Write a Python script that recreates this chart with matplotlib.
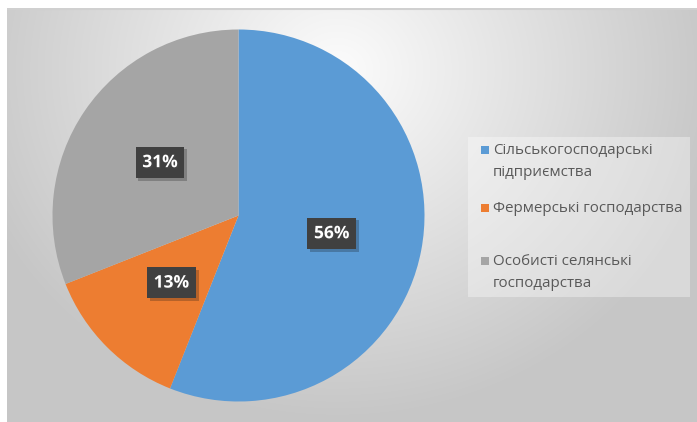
"""Pie chart of agricultural producer categories (share of output)."""

import matplotlib.pyplot as plt
import matplotlib.patheffects as pe
from matplotlib.patches import Rectangle
import numpy as np

categories = [
    "Сільськогосподарські\nпідприємства",
    "Фермерські господарства",
    "Особисті селянські\nгосподарства",
]
shares = [56, 13, 31]
colors = ["#5B9BD5", "#ED7D31", "#A5A5A5"]

W, H = 697, 422
fig = plt.figure(figsize=(W / 100, H / 100), dpi=100)
fig.patch.set_facecolor("white")


def px_box(x0, y0, w, h):
    # pixel box (top-left origin) -> figure fraction rect
    return [x0 / W, 1 - (y0 + h) / H, w / W, h / H]


# chart area with a soft radial gradient
bg = fig.add_axes(px_box(7, 8, 690, 414))
yy, xx = np.mgrid[0:414, 0:690]
dist = np.hypot(xx - 330, (yy + 8 - 70) * 1.1)
shade = np.clip(252 - dist * 0.14, 198, 252) / 255.0
bg.imshow(np.dstack([shade] * 3), aspect="auto", extent=(0, 690, 414, 0))
bg.axhline(0.5, color="#d0d0d0", lw=1.5)
bg.set_axis_off()

# pie
cx, cy, r = 238.5, 215.5, 186
ax = fig.add_axes(px_box(cx - r, cy - r, 2 * r, 2 * r))
wedges, _, autotexts = ax.pie(
    shares,
    colors=colors,
    startangle=90,
    counterclock=False,
    autopct="%d%%",
    pctdistance=0.51,
    wedgeprops=dict(linewidth=0),
    radius=1,
)
ax.set_xlim(-1, 1)
ax.set_ylim(-1, 1)
ax.set_aspect("equal")
ax.set_axis_off()

for t in autotexts:
    t.set_family("Open Sans")
    t.set_fontweight("bold")
    t.set_fontsize(12.5)
    t.set_color("white")
    t.set_bbox(dict(boxstyle="square,pad=0.38", fc="#404040", ec="none"))
    t.get_bbox_patch().set_path_effects(
        [pe.SimplePatchShadow(offset=(2, -2), alpha=0.25), pe.Normal()]
    )
    t.set_path_effects([pe.withSimplePatchShadow(offset=(1, -1), alpha=0.4)])

# legend panel
leg = fig.add_axes(px_box(468, 137, 222, 160))
leg.set_xlim(0, 222)
leg.set_ylim(160, 0)
leg.add_patch(Rectangle((0, 0), 222, 160, fc="white", alpha=0.35, ec="none"))
leg.set_axis_off()

rows = [13, 71, 124]
for label, color, y in zip(categories, colors, rows):
    leg.add_patch(Rectangle((13, y - 4), 8, 8, fc=color, ec="none"))
    leg.text(25, y - 7, label, va="top", ha="left", fontsize=10.9,
             family="Open Sans", color="#595959", linespacing=1.65)

fig.savefig("out.png", dpi=100)
